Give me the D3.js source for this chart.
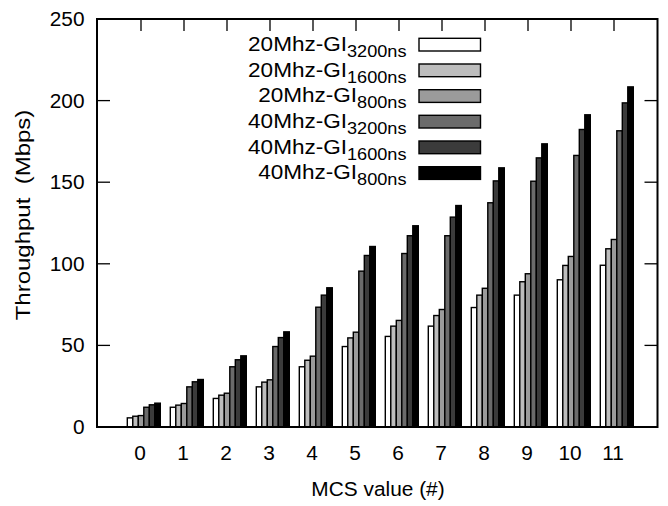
<!DOCTYPE html>
<html><head><meta charset="utf-8">
<script src="https://cdn.jsdelivr.net/npm/d3@7"></script>
<style>body{margin:0;background:#fff}svg{display:block}text{font-family:"Liberation Sans",Arial,sans-serif;fill:#000}</style>
</head><body><svg id="c" width="668" height="506"></svg>
<script>
const categories = ["0","1","2","3","4","5","6","7","8","9","10","11"];
const seriesNames = ["3200ns","1600ns","800ns","3200ns","1600ns","800ns"];
const seriesPrefix = ["20Mhz-GI","20Mhz-GI","20Mhz-GI","40Mhz-GI","40Mhz-GI","40Mhz-GI"];
const s20_3200 = [5.6,12.1,17.5,24.6,36.9,49.3,55.5,61.8,73.2,80.8,90.2,99.1];
const s20_1600 = [6.6,13.4,19.5,27.5,40.9,54.6,61.8,68.3,80.8,89.0,99.0,109.2];
const s20_800  = [7.0,14.4,20.7,28.9,43.4,58.1,65.3,72.0,85.0,93.9,104.5,114.9];
const s40_3200 = [12.1,24.6,36.9,49.3,73.4,95.5,106.3,117.2,137.4,150.6,166.4,181.5];
const s40_1600 = [13.6,27.7,41.2,54.8,80.8,105.1,117.2,128.6,150.8,164.9,182.3,198.6];
const s40_800  = [14.6,29.1,43.6,58.3,85.3,110.6,123.3,135.7,158.8,173.5,191.3,208.4];
const yTicks = [0,50,100,150,200,250];

const series = [s20_3200,s20_1600,s20_800,s40_3200,s40_1600,s40_800];
const colors = ["#ffffff","#bdbdbd","#9b9b9b","#6b6b6b","#3b3b3b","#000000"];
const SX = 1.07;

const svg = d3.select("#c");
const L=97, R=657.5, T=19, B=427;
const x = d3.scalePoint().domain(categories).range([141,614]);
const y = d3.scaleLinear().domain([0,250]).range([B,T]);
const sub = d3.scaleBand().domain(d3.range(6)).range([-13.7,19.3]).padding(0);

svg.append("g").selectAll("line").data(categories).join("line")
  .attr("x1",d=>x(d)).attr("x2",d=>x(d)).attr("y1",B).attr("y2",B-12)
  .attr("stroke","#000").attr("stroke-width",1.3);

series.forEach((vals,si)=>{
  svg.append("g").selectAll("rect").data(vals).join("rect")
    .attr("x",(v,i)=>x(categories[i])+sub(si))
    .attr("width",sub.bandwidth())
    .attr("y",v=>y(v)).attr("height",v=>B-y(v))
    .attr("fill",colors[si]).attr("stroke","#000").attr("stroke-width",1.4);
});

svg.append("g").selectAll("line").data(categories).join("line")
  .attr("x1",d=>x(d)).attr("x2",d=>x(d)).attr("y1",T).attr("y2",T+12)
  .attr("stroke","#000").attr("stroke-width",1.3);
svg.append("g").selectAll("line").data(yTicks).join("line")
  .attr("x1",L).attr("x2",L+13).attr("y1",d=>y(d)).attr("y2",d=>y(d))
  .attr("stroke","#000").attr("stroke-width",1.3);
svg.append("g").selectAll("line").data(yTicks).join("line")
  .attr("x1",R-13).attr("x2",R).attr("y1",d=>y(d)).attr("y2",d=>y(d))
  .attr("stroke","#000").attr("stroke-width",1.3);

svg.append("rect").attr("x",L).attr("y",T).attr("width",R-L).attr("height",B-T)
  .attr("fill","none").attr("stroke","#000").attr("stroke-width",2);

svg.append("g").selectAll("text").data(yTicks).join("text")
  .attr("transform",d=>`translate(84.5,${y(d)+7}) scale(${SX},1)`)
  .attr("text-anchor","end").style("font-size","19.5px").text(d=>d);
svg.append("g").selectAll("text").data(categories).join("text")
  .attr("transform",d=>`translate(${x(d)-1},460) scale(${SX},1)`)
  .attr("text-anchor","middle").style("font-size","19.5px").text(d=>d);

svg.append("text").attr("transform",`translate(378,496) scale(${SX},1)`)
  .attr("text-anchor","middle").style("font-size","19.5px").text("MCS value (#)");
svg.append("text").attr("transform",`translate(30,215) rotate(-90) scale(1.2,1)`)
  .attr("text-anchor","middle").style("font-size","20px").style("white-space","pre")
  .text("Throughput  (Mbps)");

const legTop = [38.3,64,89.7,115.3,141,166.7];
series.forEach((vals,si)=>{
  svg.append("rect").attr("x",419).attr("y",legTop[si]).attr("width",61.5).attr("height",12.7)
    .attr("fill",colors[si]).attr("stroke","#000").attr("stroke-width",1.4);
  const t = svg.append("text").attr("transform",`translate(406.5,${legTop[si]+12.7}) scale(1.1,1)`)
    .attr("text-anchor","end").style("font-size","20.5px");
  t.append("tspan").text(seriesPrefix[si]);
  t.append("tspan").attr("dy",6).style("font-size","16.5px").text(seriesNames[si]);
});
</script></body></html>
